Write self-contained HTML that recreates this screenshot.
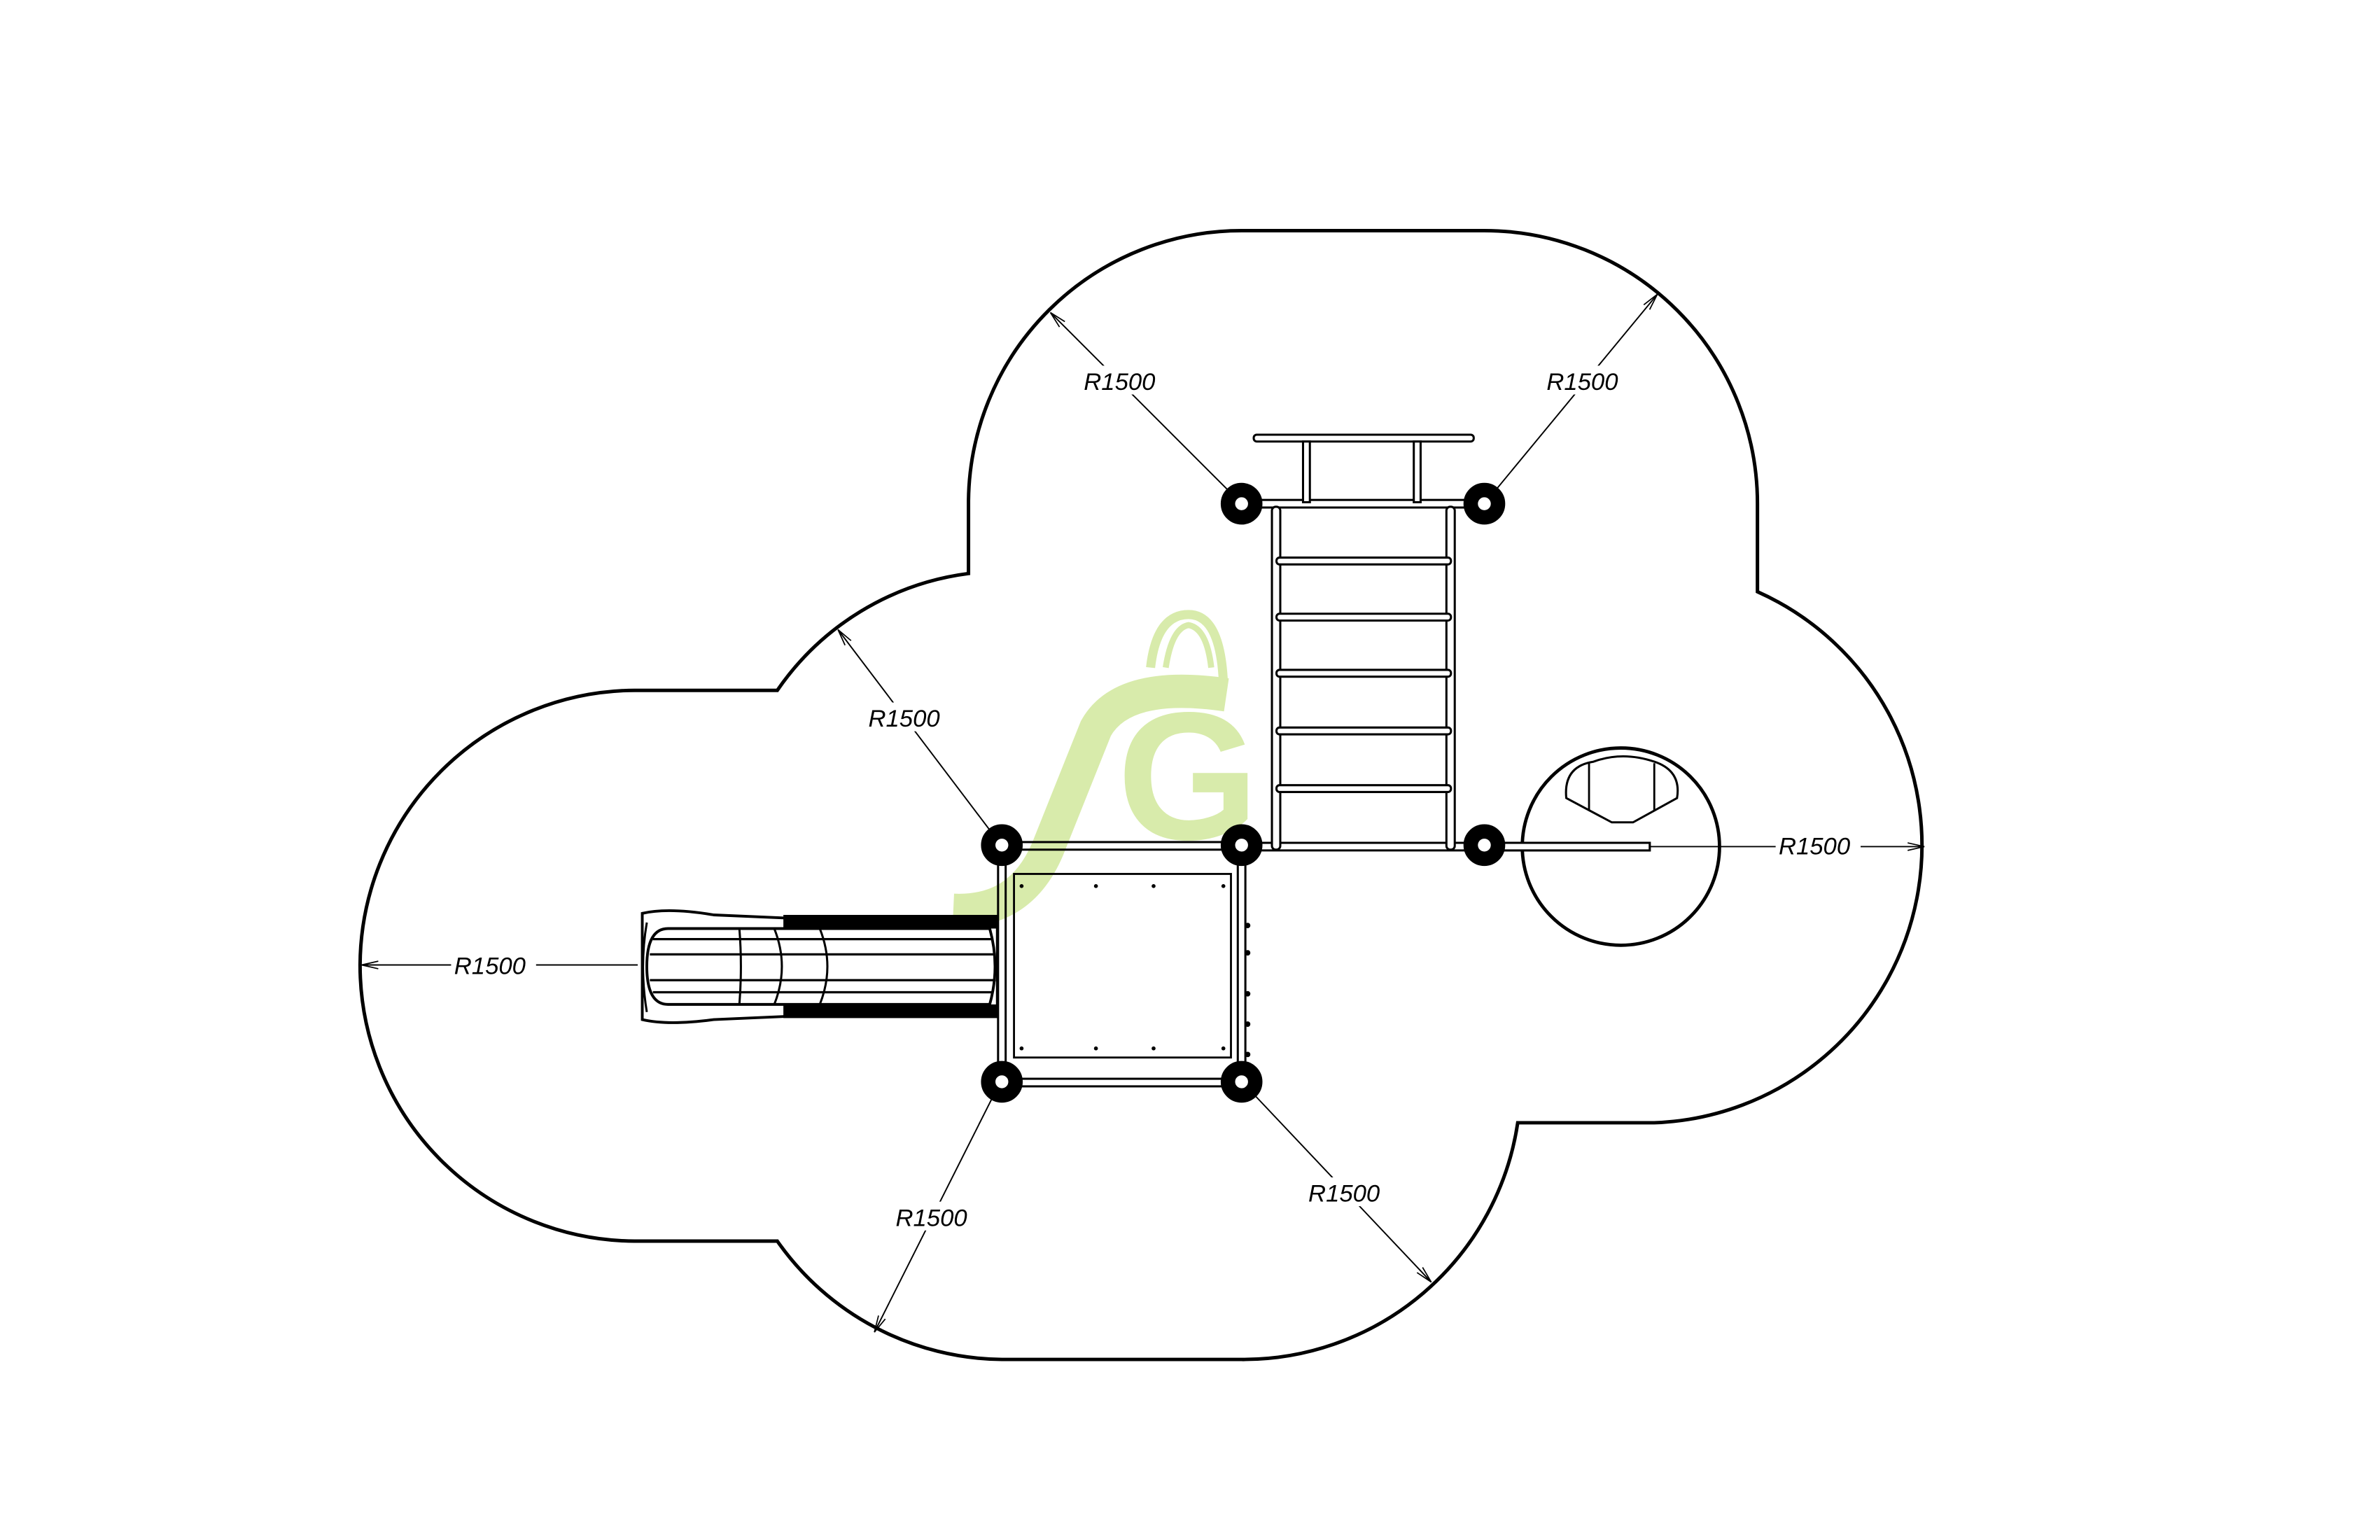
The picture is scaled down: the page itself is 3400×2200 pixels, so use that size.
<!DOCTYPE html>
<html><head><meta charset="utf-8"><style>
html,body{margin:0;padding:0;background:#fff;}
svg{display:block;}
text{font-family:"Liberation Sans",sans-serif;font-style:italic;font-size:16px;fill:#000;}
</style></head><body>
<svg width="3400" height="2200" viewBox="0 0 1568 1015" xmlns="http://www.w3.org/2000/svg">
<defs>
<marker id="ah" markerWidth="12" markerHeight="8" refX="11" refY="4" orient="auto" markerUnits="userSpaceOnUse">
<path d="M0,1.5 L11,4 L0,6.5" fill="none" stroke="#000" stroke-width="0.8"/>
</marker>
</defs>
<rect width="1568" height="1015" fill="#fff"/>
<!-- outline -->
<path d="M818,152 L978,152 A180,180 0 0 1 1158,332 L1158,390 A183,183 0 0 1 1090,740 L1000,740 A183,183 0 0 1 818,896 L660,896 A183,183 0 0 1 512,818 L418,818 A182,182 0 0 1 237,636 A182,182 0 0 1 418,455 L512,455 A181,181 0 0 1 638,378 L638,330 A180,180 0 0 1 818,152 Z" fill="none" stroke="#000" stroke-width="2.3"/>

<!-- dimension lines -->
<g stroke="#000" stroke-width="0.9" fill="none">
<line x1="812" y1="326" x2="692" y2="206" marker-end="url(#ah)"/>
<line x1="983" y1="326" x2="1092" y2="194" marker-end="url(#ah)"/>
<line x1="655" y1="551" x2="552" y2="415" marker-end="url(#ah)"/>
<line x1="420" y1="636" x2="238" y2="636" marker-end="url(#ah)"/>
<line x1="1087" y1="558" x2="1268" y2="558" marker-end="url(#ah)"/>
<line x1="656" y1="719" x2="576" y2="878" marker-end="url(#ah)"/>
<line x1="823" y1="718" x2="943" y2="845" marker-end="url(#ah)"/>
</g>
<g>
<rect x="712" y="241" width="56" height="19" fill="#fff"/><text x="714" y="257">R1500</text>
<rect x="1017" y="241" width="56" height="19" fill="#fff"/><text x="1019" y="257">R1500</text>
<rect x="570" y="463" width="56" height="19" fill="#fff"/><text x="572" y="479">R1500</text>
<rect x="297" y="626" width="56" height="19" fill="#fff"/><text x="299" y="642">R1500</text>
<rect x="1170" y="547" width="56" height="19" fill="#fff"/><text x="1172" y="563">R1500</text>
<rect x="588" y="792" width="56" height="19" fill="#fff"/><text x="590" y="808">R1500</text>
<rect x="860" y="776" width="56" height="19" fill="#fff"/><text x="862" y="792">R1500</text>
</g>

<!-- slide -->
<g stroke="#000" fill="none">
<path d="M423,602 Q440,598 470,603 L516,605 L657,605 L657,670 L516,670 L470,672 Q440,676 423,672 Z" fill="#fff" stroke-width="1.8"/>
<rect x="516" y="603" width="141" height="9" fill="#000" stroke="none"/>
<rect x="516" y="662" width="141" height="9" fill="#000" stroke="none"/>
<path d="M440,612 L652,612 Q659,637 652,662 L440,662 Q426,662 426,637 Q426,612 440,612 Z" fill="#fff" stroke-width="1.8"/>
<line x1="430" y1="619" x2="654" y2="619" stroke-width="1.5"/>
<line x1="428" y1="629" x2="656" y2="629" stroke-width="1.5"/>
<line x1="428" y1="646" x2="656" y2="646" stroke-width="1.5"/>
<line x1="430" y1="654" x2="654" y2="654" stroke-width="1.5"/>
<path d="M487,612 Q489,637 487,662" stroke-width="1.4"/>
<path d="M510,612 Q520,637 510,662" stroke-width="1.4"/>
<path d="M540,612 Q550,637 540,662" stroke-width="1.4"/>
<path d="M426,608 Q421,637 426,667" stroke-width="1.4"/>
</g>

<!-- platform deck -->
<rect x="668" y="576" width="143" height="121" fill="#fff" stroke="#000" stroke-width="1.3"/>
<g fill="#000">
<circle cx="673" cy="584" r="1.3"/><circle cx="722" cy="584" r="1.3"/><circle cx="760" cy="584" r="1.3"/><circle cx="806" cy="584" r="1.3"/>
<circle cx="673" cy="691" r="1.3"/><circle cx="722" cy="691" r="1.3"/><circle cx="760" cy="691" r="1.3"/><circle cx="806" cy="691" r="1.3"/>
</g>
<!-- pipes -->
<g fill="#fff" stroke="#000" stroke-width="1.4">
<rect x="818" y="329.5" width="160" height="5"/>
<rect x="660" y="555" width="158" height="5"/>
<rect x="818" y="555.5" width="160" height="5"/>
<rect x="660" y="711" width="158" height="5"/>
<rect x="657.5" y="557" width="5" height="156"/>
<rect x="815.5" y="557" width="5" height="156"/>
<rect x="978" y="555.5" width="109" height="5"/>
<rect x="838" y="334" width="5.5" height="226" rx="2.5"/>
<rect x="953" y="334" width="5.5" height="226" rx="2.5"/>
<rect x="841" y="367.5" width="115" height="4.5" rx="2"/>
<rect x="841" y="404.5" width="115" height="4.5" rx="2"/>
<rect x="841" y="441.5" width="115" height="4.5" rx="2"/>
<rect x="841" y="479.5" width="115" height="4.5" rx="2"/>
<rect x="841" y="517.5" width="115" height="4.5" rx="2"/>
<rect x="826" y="286.5" width="145" height="4.5" rx="2"/>
<rect x="858.5" y="291" width="4.5" height="40"/>
<rect x="931.5" y="291" width="4.5" height="40"/>
</g>
<g fill="#000"><circle cx="822" cy="610" r="1.8"/><circle cx="822" cy="628" r="1.8"/><circle cx="822" cy="655" r="1.8"/><circle cx="822" cy="675" r="1.8"/><circle cx="822" cy="695" r="1.8"/></g>

<!-- spinner circle -->
<circle cx="1068" cy="558" r="65" fill="none" stroke="#000" stroke-width="2.2"/>
<rect x="978" y="555.5" width="109" height="5" fill="#fff" stroke="#000" stroke-width="1.4"/>
<path d="M1032,526 Q1030,505 1050,502 Q1069,495 1090,502 Q1108,508 1105,526 L1076,542 L1062,542 Z" fill="none" stroke="#000" stroke-width="1.4"/>
<line x1="1047" y1="503" x2="1047" y2="534" stroke="#000" stroke-width="1.3"/>
<line x1="1090" y1="503" x2="1090" y2="534" stroke="#000" stroke-width="1.3"/>

<!-- posts -->
<g fill="#fff" stroke="#000" stroke-width="9.5">
<circle cx="818" cy="332" r="9"/><circle cx="978" cy="332" r="9"/>
<circle cx="660" cy="557" r="9"/><circle cx="818" cy="557" r="9"/><circle cx="978" cy="557" r="9"/>
<circle cx="660" cy="713" r="9"/><circle cx="818" cy="713" r="9"/>
</g>

<!-- watermark -->
<g opacity="0.75" style="mix-blend-mode:multiply">
<path d="M628,600 Q672,602 690,560 Q706,520 722,480 Q740,448 808,458" fill="none" stroke="#cbe58f" stroke-width="22"/>
<path d="M758,440 Q762,405 783,405 Q804,405 806,450" fill="none" stroke="#cbe58f" stroke-width="6"/>
<path d="M768,440 Q772,414 783,412 Q795,414 798,440" fill="none" stroke="#cbe58f" stroke-width="4"/>
<text x="736" y="553" style="font-style:normal;font-weight:bold;font-size:120px;fill:#cbe58f">G</text>
</g>
</svg>
</body></html>
